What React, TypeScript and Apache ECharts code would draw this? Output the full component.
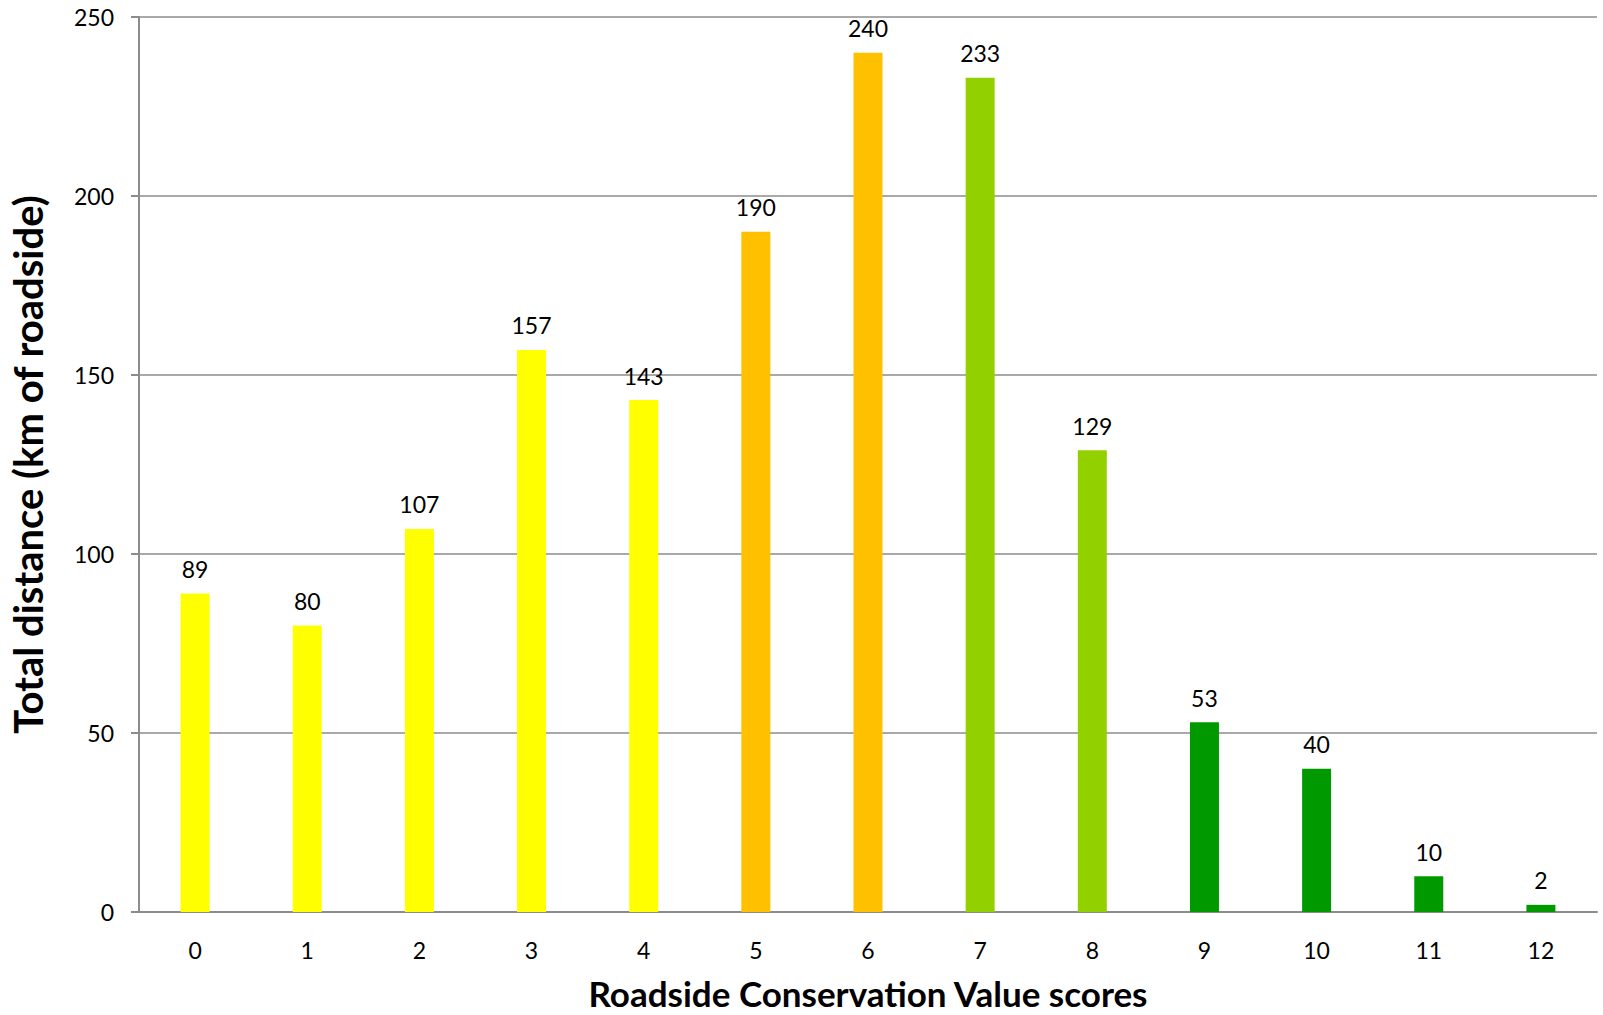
import React, { useEffect, useRef } from "react";
import * as echarts from "echarts";

const categories = ["0", "1", "2", "3", "4", "5", "6", "7", "8", "9", "10", "11", "12"];
const values = [89, 80, 107, 157, 143, 190, 240, 233, 129, 53, 40, 10, 2];
const barColors = [
  "#FFFF00", "#FFFF00", "#FFFF00", "#FFFF00", "#FFFF00",
  "#FFC000", "#FFC000",
  "#92D000", "#92D000",
  "#009900", "#009900", "#009900", "#009900",
];
const yTicks = [0, 50, 100, 150, 200, 250];

const FONT = "Lato, 'Open Sans', sans-serif";

export default function App() {
  const ref = useRef<HTMLDivElement>(null);
  useEffect(() => {
    if (!ref.current) return;
    const chart = echarts.init(ref.current, undefined, { renderer: "svg" });
    chart.setOption({
      animation: false,
      backgroundColor: "#ffffff",
      textStyle: { fontFamily: FONT },
      grid: { left: 137, top: 17, right: 6, bottom: 98 },
      xAxis: {
        type: "category",
        data: categories,
        axisLine: { lineStyle: { color: "#8c8c8c", width: 2 } },
        axisTick: { show: false },
        axisLabel: { color: "#000", fontSize: 23, margin: 26, fontFamily: FONT },
        name: "Roadside Conservation Value scores",
        nameLocation: "middle",
        nameGap: 63,
        nameTextStyle: { color: "#000", fontSize: 35, fontWeight: "bold", fontFamily: FONT },
      },
      yAxis: {
        type: "value",
        min: yTicks[0],
        max: yTicks[yTicks.length - 1],
        interval: 50,
        axisLine: { show: true, lineStyle: { color: "#8c8c8c", width: 2 } },
        axisTick: { show: true, length: 8, lineStyle: { color: "#8c8c8c", width: 2 } },
        splitLine: { lineStyle: { color: "#8c8c8c", width: 1.5 } },
        axisLabel: { color: "#000", fontSize: 23, margin: 25, fontFamily: FONT },
        name: "Total distance (km of roadside)",
        nameLocation: "middle",
        nameGap: 91,
        nameTextStyle: { color: "#000", fontSize: 40, fontWeight: "bold", fontFamily: FONT },
      },
      series: [
        {
          type: "bar",
          barWidth: 29,
          data: values.map((v, i) => ({ value: v, itemStyle: { color: barColors[i] } })),
          label: {
            show: true,
            position: "top",
            distance: 13,
            color: "#000",
            fontSize: 23,
            fontFamily: FONT,
          },
        },
      ],
    });
    return () => chart.dispose();
  }, []);
  return (
    <div
      ref={ref}
      style={{ position: "fixed", left: 0, top: 0, width: 1603, height: 1015 }}
    />
  );
}
